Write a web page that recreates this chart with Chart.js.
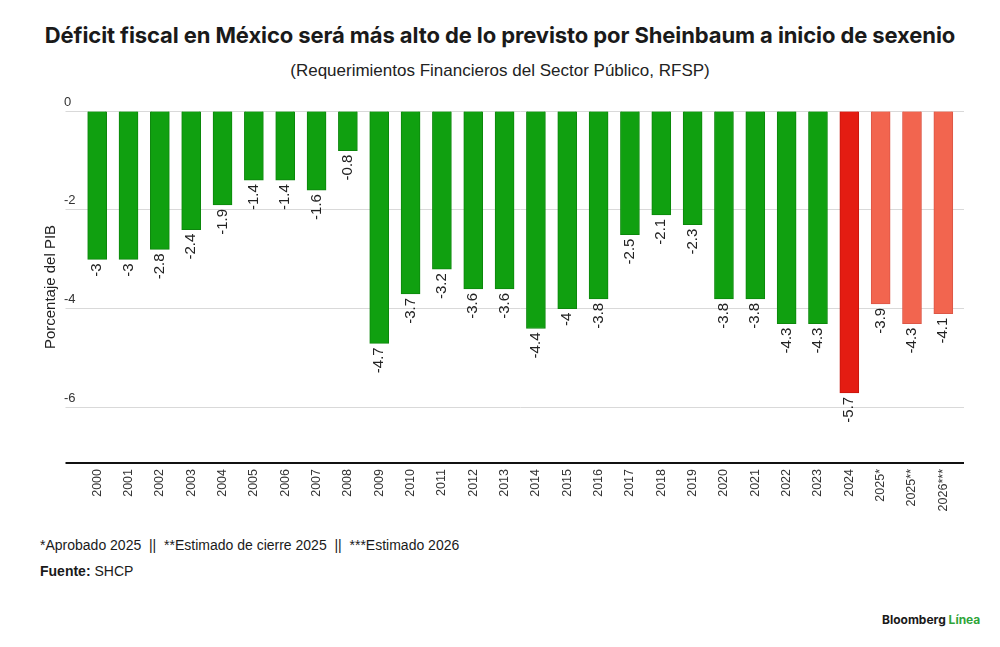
<!DOCTYPE html>
<html lang="es">
<head>
<meta charset="UTF-8">
<title>Déficit fiscal en México</title>
<style>
  body { margin: 0; background: #fff; width: 1000px; height: 647px; position: relative; overflow: hidden; font-family: "Liberation Sans", Arial, sans-serif; color: #1a1a1a; }
  #titulo { position: absolute; top: 22px; left: 0; width: 1000px; text-align: center; font-family: Inter, sans-serif; font-weight: 700; font-size: 22px; letter-spacing: -0.1px; color: #1a1a1a; }
  #subtitulo { position: absolute; top: 61px; left: 0; width: 1000px; text-align: center; font-size: 17px; color: #222; }
  #grafica { position: absolute; top: 0; left: 0; }
  #nota { position: absolute; top: 537px; left: 40px; font-size: 14px; color: #1a1a1a; }
  #fuente { position: absolute; top: 563px; left: 40px; font-size: 14px; color: #1a1a1a; }
  #logo { position: absolute; top: 612px; left: 882px; font-family: Inter, sans-serif; font-weight: 700; font-size: 12px; color: #1a1a1a; }
  #logo span { color: #2fa53a; }
</style>
</head>
<body>
<div id="titulo">Déficit fiscal en México será más alto de lo previsto por Sheinbaum a inicio de sexenio</div>
<div id="subtitulo">(Requerimientos Financieros del Sector Público, RFSP)</div>
<canvas id="grafica" width="1000" height="530"></canvas>
<div id="nota">*Aprobado 2025 &nbsp;|| &nbsp;**Estimado de cierre 2025 &nbsp;|| &nbsp;***Estimado 2026</div>
<div id="fuente"><b>Fuente:</b> SHCP</div>
<div id="logo">Bloomberg <span>Línea</span></div>

<script src="https://cdn.jsdelivr.net/npm/chart.js@4.4.0/dist/chart.umd.min.js"></script>
<script>
    var anios = ["2000","2001","2002","2003","2004","2005","2006","2007","2008","2009",
                 "2010","2011","2012","2013","2014","2015","2016","2017","2018","2019",
                 "2020","2021","2022","2023","2024","2025*","2025**","2026***"];
    var rfsp = [-3, -3, -2.8, -2.4, -1.9, -1.4, -1.4, -1.6, -0.8, -4.7,
                -3.7, -3.2, -3.6, -3.6, -4.4, -4, -3.8, -2.5, -2.1, -2.3,
                -3.8, -3.8, -4.3, -4.3, -5.7, -3.9, -4.3, -4.1];
    var ticksY = [0, -2, -4, -6];
    var minY = -7.12;

    var verde = "#10a010", rojo = "#e41c12", salmon = "#f2654f";
    var colores = anios.map(function(a){
        if (a == "2024") return rojo;
        if (a.indexOf("*") > -1) return salmon;
        return verde;
    });
    var bordes = colores.map(function(c){
        return c == verde ? "#0c870c" : (c == rojo ? "#c8150c" : "#dc5646");
    });

    function ponerTicks(s) {
        s.ticks = ticksY.concat([minY]).map(function(v){ return {value: v}; });
    }
    function colorRejilla(ctx) { return ctx.tick && ctx.tick.value == minY ? "#111" : "#d9d9d9"; }
    function anchoRejilla(ctx) { return ctx.tick && ctx.tick.value == minY ? 2 : 1; }

    // etiquetas del eje y encima de la linea y etiquetas de las barras
    var etiquetas = {
        id: "etiquetas",
        afterDatasetsDraw: function(chart) {
            var c = chart.ctx, y = chart.scales.y;
            c.save();
            c.fillStyle = "#333";
            c.font = "13px 'Liberation Sans', Arial, sans-serif";
            c.textAlign = "left";
            c.textBaseline = "middle";
            ticksY.forEach(function(v){
                c.fillText(String(v), 64, y.getPixelForValue(v) - 9);
            });
            c.fillStyle = "#222";
            c.font = "15px 'Liberation Sans', Arial, sans-serif";
            c.textAlign = "right";
            chart.getDatasetMeta(0).data.forEach(function(bar, i){
                c.save();
                c.translate(bar.x, bar.y + 4);
                c.rotate(-Math.PI / 2);
                c.fillText(String(rfsp[i]), 0, 0);
                c.restore();
            });
            c.restore();
        }
    };

    new Chart(document.getElementById("grafica"), {
        type: "bar",
        data: {
            labels: anios,
            datasets: [{
                data: rfsp,
                backgroundColor: colores,
                borderColor: bordes,
                borderWidth: 1,
                barThickness: 19
            }]
        },
        options: {
            responsive: false,
            animation: false,
            layout: { padding: { top: 111, left: 0, right: 36, bottom: 0 } },
            plugins: { legend: { display: false }, tooltip: { enabled: false } },
            scales: {
                x: {
                    grid: { display: false },
                    border: { display: false },
                    ticks: {
                        minRotation: 90, maxRotation: 90, padding: -2,
                        color: "#333",
                        font: { family: "'Liberation Sans', Arial, sans-serif", size: 12.5 }
                    },
                    afterFit: function(s){ s.height = 67; }
                },
                y: {
                    min: minY, max: 0,
                    afterBuildTicks: ponerTicks,
                    grid: { color: colorRejilla, lineWidth: anchoRejilla, tickColor: colorRejilla, tickLength: 16 },
                    border: { display: false },
                    ticks: { display: false },
                    title: {
                        display: true, text: "Porcentaje del PIB", color: "#222",
                        padding: { top: 42, bottom: 0 },
                        font: { family: "'Liberation Sans', Arial, sans-serif", size: 15 }
                    },
                    afterFit: function(s){ s.width = 81.5; }
                },
                y2: {
                    position: "right",
                    min: minY, max: 0,
                    afterBuildTicks: ponerTicks,
                    grid: { drawOnChartArea: false, color: colorRejilla, lineWidth: anchoRejilla, tickLength: 5 },
                    border: { display: false },
                    ticks: { display: false },
                    afterFit: function(s){ s.width = 5; }
                }
            }
        },
        plugins: [etiquetas]
    });
</script>
</body>
</html>
